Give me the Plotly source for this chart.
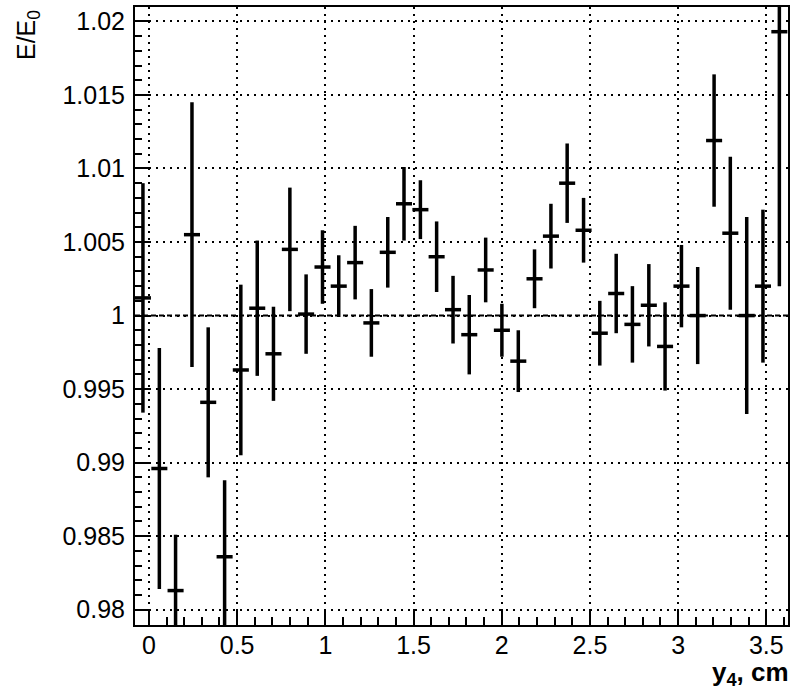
import plotly.graph_objects as go

# Bin centres of y4 (cm) and the measured energy ratio E/E0 with its uncertainty
y4_cm = [-0.034, 0.059, 0.151, 0.244, 0.336, 0.429, 0.521, 0.614, 0.706, 0.799,
         0.891, 0.984, 1.076, 1.169, 1.261, 1.354, 1.446, 1.539, 1.631, 1.724,
         1.816, 1.909, 2.001, 2.094, 2.186, 2.279, 2.371, 2.464, 2.556, 2.649,
         2.741, 2.834, 2.926, 3.019, 3.111, 3.204, 3.296, 3.389, 3.481, 3.574]
bin_half_width = 0.0455

e_ratio = [1.0012, 0.9896, 0.9813, 1.0055, 0.9941, 0.9836, 0.9963, 1.0005, 0.9974, 1.0045,
           1.0001, 1.0033, 1.0020, 1.0036, 0.9995, 1.0043, 1.0076, 1.0072, 1.0040, 1.0004,
           0.9987, 1.0031, 0.9990, 0.9969, 1.0025, 1.0054, 1.0090, 1.0058, 0.9988, 1.0015,
           0.9994, 1.0007, 0.9979, 1.0020, 1.0000, 1.0119, 1.0056, 1.0000, 1.0020, 1.0193]
e_ratio_err = [0.0078, 0.0082, 0.0038, 0.0090, 0.0051, 0.0052, 0.0058, 0.0046, 0.0032, 0.0042,
               0.0027, 0.0025, 0.0021, 0.0025, 0.0023, 0.0024, 0.0025, 0.0020, 0.0024, 0.0023,
               0.0027, 0.0022, 0.0018, 0.0021, 0.0020, 0.0022, 0.0027, 0.0022, 0.0022, 0.0027,
               0.0026, 0.0028, 0.0030, 0.0028, 0.0033, 0.0045, 0.0052, 0.0067, 0.0052, 0.0173]

x_tick_vals = [0, 0.5, 1, 1.5, 2, 2.5, 3, 3.5]
x_tick_text = ["0", "0.5", "1", "1.5", "2", "2.5", "3", "3.5"]
y_tick_vals = [0.98, 0.985, 0.99, 0.995, 1.0, 1.005, 1.01, 1.015, 1.02]
y_tick_text = ["0.98", "0.985", "0.99", "0.995", "1", "1.005", "1.01", "1.015", "1.02"]

reference_level = 1.0

FONT = "Liberation Sans, Arial, Helvetica, sans-serif"

fig = go.Figure()
fig.add_trace(go.Scatter(
    x=y4_cm,
    y=e_ratio,
    mode="markers",
    marker=dict(size=1, color="black", opacity=0),
    error_y=dict(type="data", array=e_ratio_err, visible=True,
                 color="black", thickness=3.5, width=0),
    error_x=dict(type="constant", value=bin_half_width, visible=True,
                 color="black", thickness=3.5, width=0),
    showlegend=False,
    hoverinfo="x+y",
))

# Dashed line marking E/E0 = 1
fig.add_shape(type="line", xref="paper", x0=0, x1=1, yref="y",
              y0=reference_level, y1=reference_level,
              line=dict(color="black", width=2, dash="5px,3px"), layer="between")

axis_common = dict(
    showline=True, linecolor="black", linewidth=2, mirror=True,
    ticks="inside", tickcolor="black", tickwidth=1.5,
    showgrid=True, gridcolor="black", gridwidth=2, griddash="2px,5px",
    zeroline=False,
    tickfont=dict(family=FONT, size=25, color="black"),
)

fig.update_xaxes(
    range=[-0.079, 3.623],
    tickmode="array", tickvals=x_tick_vals, ticktext=x_tick_text,
    ticklen=16,
    ticklabelstandoff=-3,
    minor=dict(tick0=0, dtick=0.1, ticklen=8, ticks="inside",
               tickcolor="black", tickwidth=1.5, showgrid=False),
    **axis_common,
)
fig.update_yaxes(
    range=[0.97896, 1.02098],
    tickmode="array", tickvals=y_tick_vals, ticktext=y_tick_text,
    ticklen=14,
    ticklabelstandoff=3,
    minor=dict(tick0=0.98, dtick=0.001, ticklen=7, ticks="inside",
               tickcolor="black", tickwidth=1.5, showgrid=False),
    **axis_common,
)

fig.add_annotation(
    text="E/E<sub>0</sub>", textangle=-90, showarrow=False,
    xref="paper", x=0, xshift=-107, xanchor="center",
    yref="paper", y=1, yshift=-1, yanchor="top",
    font=dict(family=FONT, size=25, color="black"),
)
fig.add_annotation(
    text="<b>y<sub>4</sub>, cm</b>", showarrow=False, borderpad=0,
    xref="paper", x=1, xshift=2, xanchor="right",
    yref="paper", y=0, yshift=-31, yanchor="top",
    font=dict(family=FONT, size=26, color="black"),
)

fig.update_layout(
    width=792, height=690,
    margin=dict(l=135, r=2, t=7, b=65),
    paper_bgcolor="white", plot_bgcolor="white",
    font=dict(family=FONT, color="black"),
)

fig.write_html("out.html")
